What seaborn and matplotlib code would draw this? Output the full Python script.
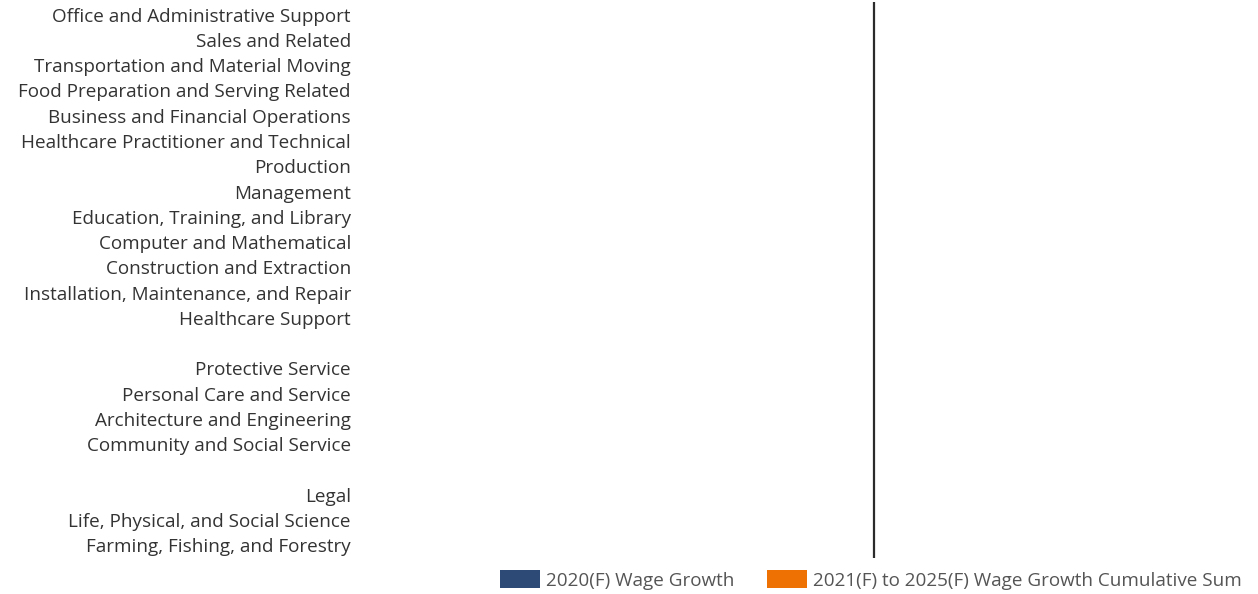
import numpy as np
import pandas as pd
import seaborn as sns
import matplotlib.pyplot as plt
from matplotlib.patches import Patch

categories = [
    "Office and Administrative Support",
    "Sales and Related",
    "Transportation and Material Moving",
    "Food Preparation and Serving Related",
    "Business and Financial Operations",
    "Healthcare Practitioner and Technical",
    "Production",
    "Management",
    "Education, Training, and Library",
    "Computer and Mathematical",
    "Construction and Extraction",
    "Installation, Maintenance, and Repair",
    "Healthcare Support",
    " ",
    "Protective Service",
    "Personal Care and Service",
    "Architecture and Engineering",
    "Community and Social Service",
    "  ",
    "Legal",
    "Life, Physical, and Social Science",
    "Farming, Fishing, and Forestry",
]

# no bars are visible in the picture, so every value reads as zero
growth_2020 = [0.0] * len(categories)
growth_2021_2025 = [0.0] * len(categories)

series_names = ["2020(F) Wage Growth", "2021(F) to 2025(F) Wage Growth Cumulative Sum"]
colors = ["#2d4a77", "#ee7203"]

df = pd.DataFrame({
    "category": categories,
    "g2020": growth_2020,
    "total": np.array(growth_2020) + np.array(growth_2021_2025),
})

sns.set_theme(style="white")
plt.rcParams["font.family"] = ["Open Sans", "DejaVu Sans"]
text_color = "#333333"

fig = plt.figure(figsize=(12.58, 5.94), dpi=100)
ax = fig.add_axes([362 / 1258, 1 - 558 / 594, (1250 - 362) / 1258, 556 / 594])

sns.barplot(data=df, y="category", x="total", order=categories, color=colors[1],
            orient="h", ax=ax, width=0.7, linewidth=0, saturation=1)
sns.barplot(data=df, y="category", x="g2020", order=categories, color=colors[0],
            orient="h", ax=ax, width=0.7, linewidth=0, saturation=1)

ax.set_xlim(-15, 11)
ax.set_ylim(len(categories) - 0.5, -0.5)
ax.axvline(0, color="#2b2b2b", lw=1.6)
for s in ax.spines.values():
    s.set_visible(False)
ax.set_xticks([])
ax.set_xlabel("")
ax.set_ylabel("")
ax.tick_params(axis="y", length=0, pad=8, labelsize=13.6, labelcolor=text_color)

handles = [Patch(facecolor=c, edgecolor="none") for c in colors]
fig.legend(handles, series_names, loc="center", bbox_to_anchor=(871 / 1258, 1 - 580 / 594),
           ncol=2, frameon=False, fontsize=13.6, labelcolor="#555555",
           handlelength=2.1, handleheight=1.1, handletextpad=0.35, columnspacing=1.7)

fig.savefig("out.png", dpi=100)
